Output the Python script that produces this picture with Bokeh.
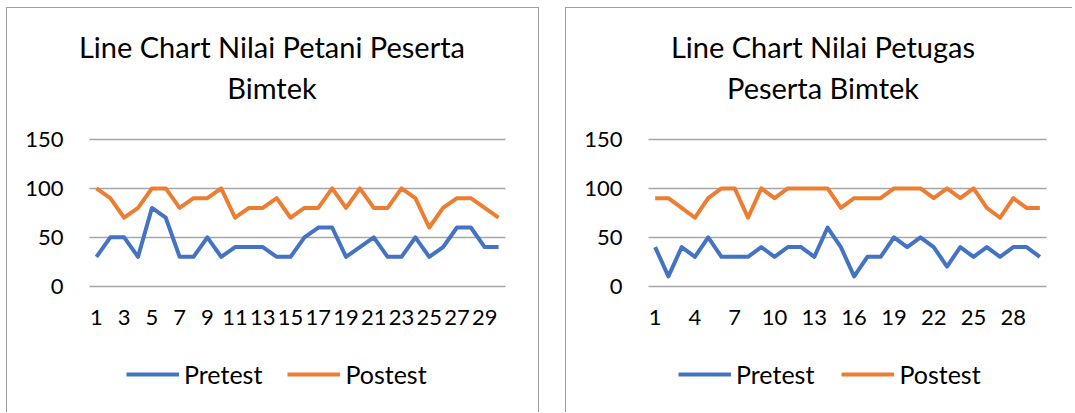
from bokeh.plotting import figure
from bokeh.models import FixedTicker, Label, Legend, LegendItem, Range1d, Grid
from bokeh.layouts import row
from bokeh.embed import file_html
from bokeh.resources import INLINE

# ---------------- data ----------------
respondents = list(range(1, 31))

petani_title = ["Line Chart Nilai Petani Peserta", "Bimtek"]
petani_pretest = [30, 50, 50, 30, 80, 70, 30, 30, 50, 30, 40, 40, 40, 30, 30,
                  50, 60, 60, 30, 40, 50, 30, 30, 50, 30, 40, 60, 60, 40, 40]
petani_postest = [100, 90, 70, 80, 100, 100, 80, 90, 90, 100, 70, 80, 80, 90, 70,
                  80, 80, 100, 80, 100, 80, 80, 100, 90, 60, 80, 90, 90, 80, 70]
petani_ticks = [1, 3, 5, 7, 9, 11, 13, 15, 17, 19, 21, 23, 25, 27, 29]

petugas_title = ["Line Chart Nilai Petugas", "Peserta Bimtek"]
petugas_pretest = [40, 10, 40, 30, 50, 30, 30, 30, 40, 30, 40, 40, 30, 60, 40,
                   10, 30, 30, 50, 40, 50, 40, 20, 40, 30, 40, 30, 40, 40, 30]
petugas_postest = [90, 90, 80, 70, 90, 100, 100, 70, 100, 90, 100, 100, 100, 100, 80,
                   90, 90, 90, 100, 100, 100, 90, 100, 90, 100, 80, 70, 90, 80, 80]
petugas_ticks = [1, 4, 7, 10, 13, 16, 19, 22, 25, 28]

y_ticks = [0, 50, 100, 150]
y_min, y_max = 0, 150
series_names = ["Pretest", "Postest"]

BLUE = "#4472C4"
ORANGE = "#ED7D31"
GRID = "#a6a6a6"
BORDER = "#a0a0a0"
FONT = "Lato"

CANVAS_H = 405
# plot area (in canvas pixels) inside each panel
AREA_TOP, AREA_BOTTOM = 131.0, 277.7   # y pixel of 150 and of 0


def make_panel(title_lines, pre, post, ticks, width, area_left, area_right,
               margin, border_styles, title_x, legend_x, legend_spacing):
    x_lo, x_hi = respondents[0] - 0.5, respondents[-1] + 0.5
    ppu_x = (area_right - area_left) / (x_hi - x_lo)
    ppu_y = (AREA_BOTTOM - AREA_TOP) / (y_max - y_min)
    xr = Range1d(x_lo - area_left / ppu_x, x_hi + (width - area_right) / ppu_x)
    yr = Range1d(y_min - (CANVAS_H - AREA_BOTTOM) / ppu_y, y_max + AREA_TOP / ppu_y)

    p = figure(width=width, height=CANVAS_H, output_backend="svg", toolbar_location=None,
               x_range=xr, y_range=yr,
               min_border_left=0, min_border_right=0,
               min_border_top=0, min_border_bottom=0,
               margin=margin, styles=border_styles)
    p.outline_line_color = None
    p.background_fill_color = "white"
    p.border_fill_color = "white"

    # grid
    p.xgrid.grid_line_color = None
    p.ygrid.ticker = FixedTicker(ticks=y_ticks)
    p.ygrid.grid_line_color = GRID
    p.ygrid.grid_line_width = 1.4
    if "cross_bounds" in Grid.properties():
        p.ygrid.cross_bounds = (x_lo, x_hi)
    else:
        p.ygrid.grid_line_color = None
        p.segment(x0=[x_lo] * len(y_ticks), x1=[x_hi] * len(y_ticks),
                  y0=y_ticks, y1=y_ticks, line_color=GRID, line_width=1.4)

    r1 = p.line(respondents, pre, line_color=BLUE, line_width=4, line_join="round")
    r2 = p.line(respondents, post, line_color=ORANGE, line_width=4, line_join="round")

    p.xaxis.ticker = FixedTicker(ticks=ticks)
    p.yaxis.ticker = FixedTicker(ticks=y_ticks)
    p.xaxis.fixed_location = y_min
    p.yaxis.fixed_location = x_lo
    for ax in (p.xaxis, p.yaxis):
        ax.axis_line_color = None
        ax.major_tick_line_color = None
        ax.minor_tick_line_color = None
        ax.major_tick_out = 0
        ax.major_tick_in = 0
        ax.major_label_text_font = FONT
        ax.major_label_text_font_size = "22px"
        ax.major_label_text_color = "black"
    p.yaxis.major_label_standoff = 26
    p.xaxis.major_label_standoff = 24

    for txt, y in zip(title_lines, [367, 326]):
        p.add_layout(Label(x=title_x, y=y, x_units="screen", y_units="screen",
                           text=txt, text_font=FONT, text_font_size="29px",
                           text_color="black", text_align="center",
                           text_baseline="middle"))

    legend = Legend(items=[LegendItem(label=series_names[0], renderers=[r1]),
                           LegendItem(label=series_names[1], renderers=[r2])],
                    orientation="horizontal", location=(legend_x, 24),
                    padding=0, margin=0, spacing=legend_spacing,
                    glyph_width=53, glyph_height=24, label_height=24,
                    label_standoff=5, border_line_color=None,
                    background_fill_alpha=0,
                    label_text_font=FONT, label_text_font_size="25px",
                    label_text_color="black")
    p.add_layout(legend, "center")
    return p


left = make_panel(petani_title, petani_pretest, petani_postest, petani_ticks,
                  width=533, area_left=82, area_right=498, margin=(7, 0, 0, 6),
                  border_styles={"border-top": f"1px solid {BORDER}",
                                 "border-left": f"1px solid {BORDER}",
                                 "border-right": f"1px solid {BORDER}"},
                  title_x=264.5, legend_x=119, legend_spacing=25)

right = make_panel(petugas_title, petugas_pretest, petugas_postest, petugas_ticks,
                   width=507, area_left=82, area_right=480, margin=(7, 0, 0, 26),
                   border_styles={"border-top": f"1px solid {BORDER}",
                                  "border-left": f"1px solid {BORDER}"},
                   title_x=256.5, legend_x=112, legend_spacing=27)

layout = row(left, right, spacing=0)

with open("out.html", "w") as f:
    f.write(file_html(layout, INLINE))
